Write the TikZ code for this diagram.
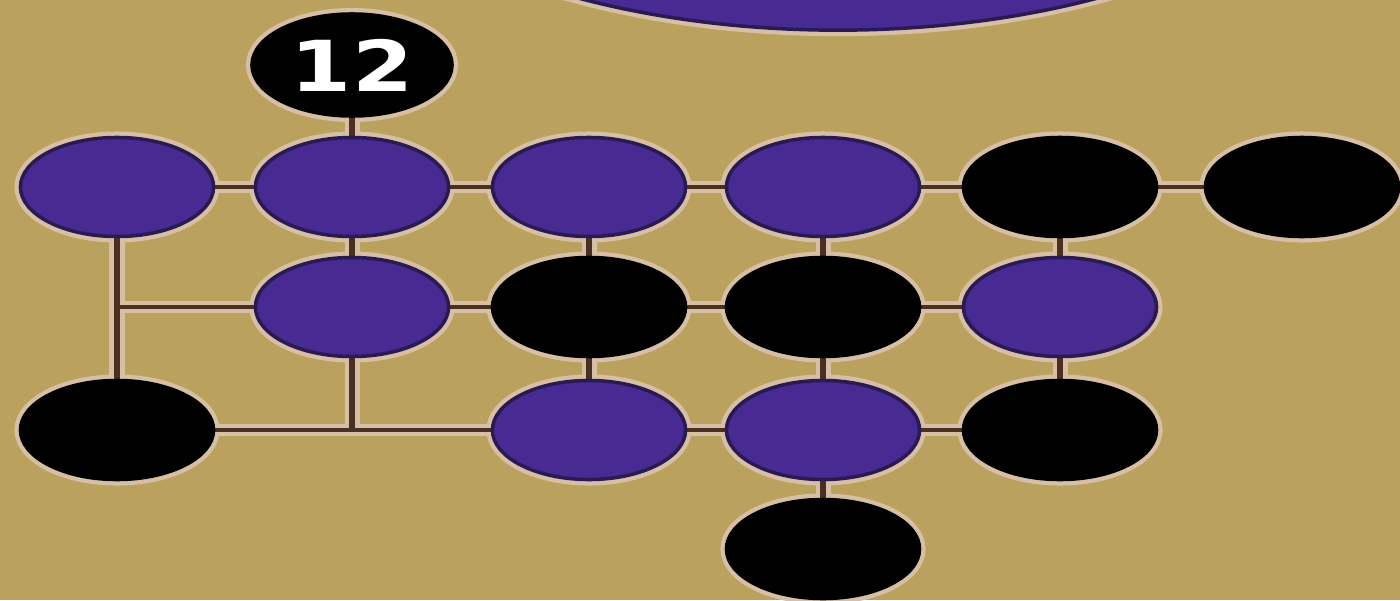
\documentclass[tikz,border=0pt]{standalone}
\usepackage{fontspec}
\usepackage{graphicx}
\usetikzlibrary{shapes.geometric,backgrounds}
\newfontfamily\digitfont{DejaVu Sans}
\definecolor{bgtan}{HTML}{BBA15E}
\definecolor{pur}{HTML}{472A92}
\definecolor{purdark}{HTML}{2A1A52}
\definecolor{halo}{HTML}{D6BFA4}
\definecolor{wire}{HTML}{4A3020}
\tikzset{
  dot/.style={ellipse, inner sep=0pt, outer sep=0pt, minimum width=1.93cm, minimum height=0.99cm, line width=0.035cm},
  pdot/.style={dot, fill=pur, draw=purdark},
  bdot/.style={dot, fill=black, draw=black},
  haloring/.style={draw=halo, line width=0.12cm},
  vwirehalo/.style={draw=halo, line width=0.15cm},
  vwire/.style={draw=wire, line width=0.06cm},
  hwirehalo/.style={draw=halo, line width=0.12cm},
  hwire/.style={draw=wire, line width=0.045cm},
}
\begin{document}
\begin{tikzpicture}[x=0.01cm, y=-0.01cm]
\useasboundingbox (0,0) rectangle (1400,600);
% big ellipse at the top
\node[pdot, minimum width=11.1cm, minimum height=5.54cm] (big) at (838,-247) {};
% top label
\node[bdot, minimum width=2cm, minimum height=1.02cm] (t12) at (352,65) {\digitfont\bfseries\fontsize{20}{24}\selectfont\textcolor{white}{\scalebox{1.25}[1]{12}}};
% row 1
\node[pdot] (n11) at (117,187) {};
\node[pdot] (n12) at (352,187) {};
\node[pdot] (n13) at (589,187) {};
\node[pdot] (n14) at (823,187) {};
\node[bdot] (n15) at (1060,187) {};
\node[bdot] (n16) at (1302,187) {};
% row 2
\node[pdot] (n22) at (352,307) {};
\node[bdot] (n23) at (589,307) {};
\node[bdot] (n24) at (823,307) {};
\node[pdot] (n25) at (1060,307) {};
% row 3
\node[bdot] (n31) at (117,430) {};
\node[pdot] (n33) at (589,430) {};
\node[pdot] (n34) at (823,430) {};
\node[bdot] (n35) at (1060,430) {};
% row 4
\node[bdot] (n44) at (823,549) {};
% junctions
\coordinate (j1) at (n11 |- n22);
\coordinate (j2) at (n22 |- n31);
\begin{pgfonlayer}{background}
  \fill[bgtan] (0,0) rectangle (1400,600);
  \path[haloring] (big.center) ellipse [x radius=5.55cm, y radius=2.77cm];
  \path[haloring] (t12.center) ellipse [x radius=1cm, y radius=0.51cm];
  \foreach \n in {n11,n12,n13,n14,n15,n16,n22,n23,n24,n25,n31,n33,n34,n35,n44}
    \path[haloring] (\n.center) ellipse [x radius=0.965cm, y radius=0.495cm];
  % wire halos
  \foreach \a/\b in {t12/n12,n12/n22,n13/n23,n14/n24,n15/n25,n23/n33,n24/n34,n25/n35,n34/n44,n11/n31,n22/j2}
    \path[vwirehalo] (\a) -- (\b);
  \foreach \a/\b in {n11/n12,n12/n13,n13/n14,n14/n15,n15/n16,j1/n22,n22/n23,n23/n24,n24/n25,n31/n33,n33/n34,n34/n35}
    \path[hwirehalo] (\a) -- (\b);
  % wires
  \foreach \a/\b in {t12/n12,n12/n22,n13/n23,n14/n24,n15/n25,n23/n33,n24/n34,n25/n35,n34/n44,n11/n31,n22/j2}
    \path[vwire] (\a) -- (\b);
  \foreach \a/\b in {n11/n12,n12/n13,n13/n14,n14/n15,n15/n16,j1/n22,n22/n23,n23/n24,n24/n25,n31/n33,n33/n34,n34/n35}
    \path[hwire] (\a) -- (\b);
\end{pgfonlayer}
\end{tikzpicture}
\end{document}
